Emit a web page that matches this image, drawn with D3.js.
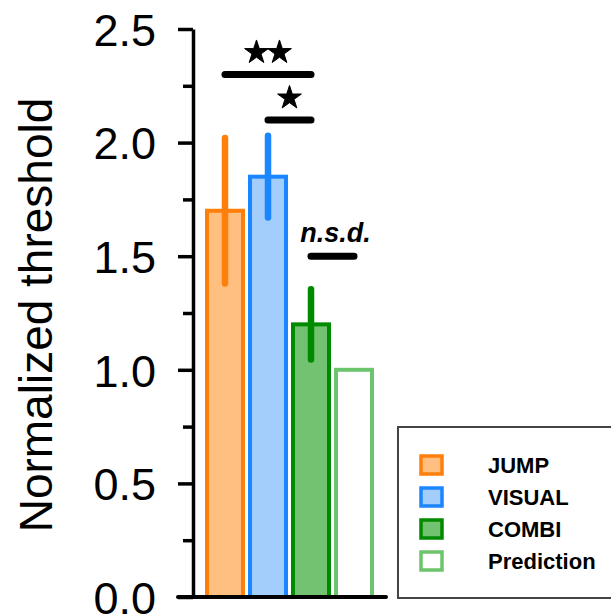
<!DOCTYPE html>
<html>
<head>
<meta charset="utf-8">
<script src="https://cdn.jsdelivr.net/npm/d3@7"></script>
<style>
  body { margin: 0; background: #fff; }
  svg { display: block; font-family: "Liberation Sans", Arial, sans-serif; }
</style>
</head>
<body>
<div id="chart"></div>
<script>
// data
var conditions = ["JUMP", "VISUAL", "COMBI", "Prediction"];
var means = [1.70, 1.85, 1.20, 1.00];
var errors = [0.32, 0.18, 0.155, null];
var majorTicks = [0, 0.5, 1.0, 1.5, 2.0, 2.5];
var minorTicks = [0.25, 0.75, 1.25, 1.75, 2.25];
// significance brackets: [from, to, level, label]
var sigFrom = ["JUMP", "VISUAL", "COMBI"];
var sigTo = ["COMBI", "COMBI", "Prediction"];
var sigLevel = [2.3, 2.1, 1.5];
var sigLabel = ["**", "*", "n.s.d."];

var stroke = {"JUMP": "#ff7f0a", "VISUAL": "#1a86ff", "COMBI": "#008a00", "Prediction": "#6cc46c"};
var fill = {"JUMP": "#ffbf80", "VISUAL": "#a3cdfa", "COMBI": "#72c272", "Prediction": "#ffffff"};

var width = 611, height = 615;

var svg = d3.select("#chart").append("svg")
  .attr("width", width)
  .attr("height", height);

var y = d3.scaleLinear().domain([0, 2.5]).range([597, 29]);
var x = d3.scaleBand().domain(conditions).range([207, 372]).paddingInner(0.163).paddingOuter(0);

// y axis, major ticks with labels
var axisMajor = svg.append("g")
  .attr("transform", "translate(193,0)")
  .call(d3.axisLeft(y).tickValues(majorTicks).tickSize(15).tickSizeOuter(0).tickPadding(22)
    .tickFormat(d3.format(".1f")));
axisMajor.select(".domain").attr("stroke", "#000").attr("stroke-width", 3.5);
axisMajor.selectAll(".tick line").attr("stroke", "#000").attr("stroke-width", 3.5);
axisMajor.selectAll(".tick text")
  .attr("fill", "#000")
  .style("font-size", "45px")
  .attr("dy", "0.36em");

// minor ticks
var axisMinor = svg.append("g")
  .attr("transform", "translate(193,0)")
  .call(d3.axisLeft(y).tickValues(minorTicks).tickSize(10).tickSizeOuter(0).tickFormat(""));
axisMinor.select(".domain").remove();
axisMinor.selectAll(".tick line").attr("stroke", "#000").attr("stroke-width", 3.5);

// y axis title
svg.append("text")
  .attr("transform", "translate(52," + 315 + ") rotate(-90)")
  .attr("text-anchor", "middle")
  .style("font-size", "46px")
  .attr("fill", "#000")
  .text("Normalized threshold");

// bars
svg.append("g").selectAll("rect")
  .data(conditions)
  .enter()
  .append("rect")
  .attr("x", function(d) { return x(d); })
  .attr("width", x.bandwidth())
  .attr("y", function(d, i) { return y(means[i]); })
  .attr("height", function(d, i) { return y(0) - y(means[i]); })
  .attr("fill", function(d) { return fill[d]; })
  .attr("stroke", function(d) { return stroke[d]; })
  .attr("stroke-width", 4);

// error bars
svg.append("g").selectAll("line")
  .data(conditions.filter(function(d, i) { return errors[i] != null; }))
  .enter()
  .append("line")
  .attr("x1", function(d) { return x(d) + x.bandwidth() / 2; })
  .attr("x2", function(d) { return x(d) + x.bandwidth() / 2; })
  .attr("y1", function(d) { var i = conditions.indexOf(d); return y(means[i] + errors[i]); })
  .attr("y2", function(d) { var i = conditions.indexOf(d); return y(means[i] - errors[i]); })
  .attr("stroke", function(d) { return stroke[d]; })
  .attr("stroke-width", 6.5)
  .attr("stroke-linecap", "round");

// baseline
svg.append("line")
  .attr("x1", 178).attr("x2", x.range()[1] + 14)
  .attr("y1", y(0)).attr("y2", y(0))
  .attr("stroke", "#000")
  .attr("stroke-width", 4)
  .attr("stroke-linecap", "round");

// significance brackets
var cx = function(d) { return x(d) + x.bandwidth() / 2; };
var star = d3.symbol().type(d3.symbolStar).size(175);

sigLevel.forEach(function(lvl, i) {
  var x1 = cx(sigFrom[i]), x2 = cx(sigTo[i]);
  svg.append("line")
    .attr("x1", x1).attr("x2", x2)
    .attr("y1", y(lvl)).attr("y2", y(lvl))
    .attr("stroke", "#000")
    .attr("stroke-width", 7)
    .attr("stroke-linecap", "round");

  var mid = (x1 + x2) / 2;
  if (sigLabel[i] == "n.s.d.") {
    svg.append("text")
      .attr("x", mid + 3)
      .attr("y", y(lvl) - 14)
      .attr("text-anchor", "middle")
      .style("font-size", "27px")
      .style("font-weight", "bold")
      .style("font-style", "italic")
      .attr("fill", "#000")
      .text(sigLabel[i]);
  } else {
    var n = sigLabel[i].length;
    for (var k = 0; k < n; k++) {
      svg.append("path")
        .attr("d", star)
        .attr("transform", "translate(" + (mid + (k - (n - 1) / 2) * 23) + "," + (y(lvl) - 22) + ")")
        .attr("fill", "#000")
        .attr("stroke", "#000")
        .attr("stroke-width", 1)
        .attr("stroke-linejoin", "round");
    }
  }
});

// legend
var legend = svg.append("g");
legend.append("rect")
  .attr("x", 398).attr("y", 427)
  .attr("width", 240).attr("height", 171)
  .attr("fill", "none")
  .attr("stroke", "#444")
  .attr("stroke-width", 2);

var items = legend.selectAll("g.item")
  .data(conditions)
  .enter()
  .append("g")
  .attr("class", "item")
  .attr("transform", function(d, i) { return "translate(0," + (465 + i * 32) + ")"; });

items.append("rect")
  .attr("x", 421).attr("y", -9)
  .attr("width", 21).attr("height", 18)
  .attr("fill", function(d) { return fill[d]; })
  .attr("stroke", function(d) { return stroke[d]; })
  .attr("stroke-width", 3.5);

items.append("text")
  .attr("x", 488)
  .attr("dy", "0.36em")
  .style("font-size", "22px")
  .style("font-weight", "bold")
  .attr("fill", "#000")
  .text(function(d) { return d; });
</script>
</body>
</html>
